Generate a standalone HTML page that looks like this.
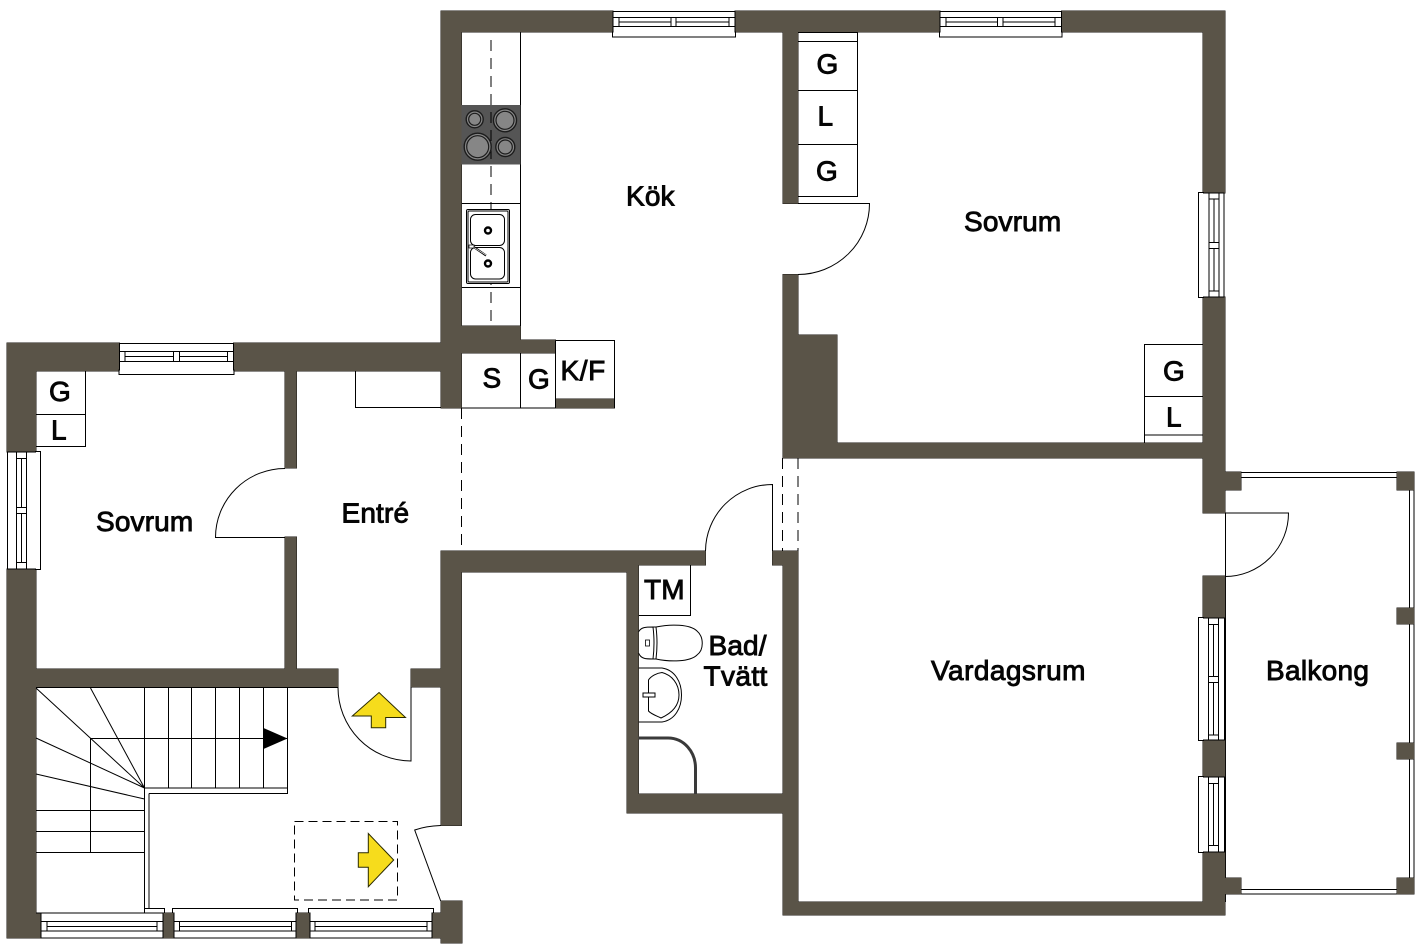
<!DOCTYPE html>
<html><head><meta charset="utf-8"><style>
html,body{margin:0;padding:0;background:#fff;width:1426px;height:950px;overflow:hidden}
svg{display:block}
text{font-family:"Liberation Sans",sans-serif;font-size:28px;fill:#050505;stroke:#050505;stroke-width:.9px;letter-spacing:.15px}
.l{fill:none;stroke:#000;stroke-width:1}
.w{fill:#fff;stroke:#000;stroke-width:1}
.d{fill:none;stroke:#000;stroke-width:1;stroke-dasharray:11 7}
</style></head><body>
<svg width="1426" height="950" viewBox="0 0 1426 950" xmlns="http://www.w3.org/2000/svg">
<defs>
<g id="walls">
<path d="M441 11H613V32H441Z M735 11H940V32H735Z M1061.5 11H1225V32H1061.5Z"/>
<path d="M1203 11H1225V193H1203Z M1203 297H1225V513H1203Z M1203 576H1225V618H1203Z M1203 740H1225V777H1203Z M1203 852H1225V915H1203Z"/>
<path d="M783 902H1225V915H783Z M783 443H1203V458H783Z M783 32H798V203.5H783Z M783 274.5H798V458H783Z M783 335H837V458H783Z"/>
<path d="M783 551H798V915H783Z M772.5 551H798V565H772.5Z M627 551H638.5V813H627Z M627 794H798V813H627Z M441 551H705.5V565H441Z M441 551H627V572H441Z"/>
<path d="M441 11H461.5V408H441Z M461 326H520.5V353H461Z M461 340H555.5V353H461Z M555.5 399H614.5V408H555.5Z"/>
<path d="M7 343H119.5V371H7Z M233.5 343H441V371H233.5Z M7 343H36V452H7Z M7 569H36V938H7Z M7 913H41V938H7Z"/>
<path d="M7 669H338V687H7Z M411 669H461V687H411Z M285 371H296.5V468H285Z M285 537H296.5V669H285Z"/>
<path d="M441 551H461.5V825.5H441Z M441 901H462V943H441Z M432 913H462V938H432Z M163 913H174V938H163Z M296 913H310V938H296Z"/>
<path d="M1225 472H1241V490H1225Z M1397 472H1414V490H1397Z M1397 608H1414V624H1397Z M1397 743H1414V759H1397Z M1225 878H1241V894H1225Z M1397 878H1414V894H1397Z"/>
</g>
</defs>

<!-- balcony rails -->
<path class="l" d="M1241 472.5H1397M1241 477.5H1397M1241 889.5H1397M1241 894H1397M1409.5 490V878M1414 490V878M1225.5 513V618M1225.5 618V902"/>

<!-- walls -->
<use href="#walls" stroke="#1c1a16" stroke-width="1"/>
<use href="#walls" fill="#5a5448"/>

<!-- kitchen counter -->
<path class="l" d="M520.5 32.5V326M461.5 203.5H520.5M461.5 287.5H520.5"/>
<rect x="461.5" y="105" width="59" height="59.5" fill="#555"/>
<path class="d" d="M491 40V326"/>
<g fill="#868686" stroke="#1c1c1c" stroke-width="1.4">
<circle cx="474.7" cy="119.3" r="8.5"/><circle cx="505" cy="120.3" r="11.5"/><circle cx="477.7" cy="146.7" r="13.5"/><circle cx="505.3" cy="147" r="9.5"/>
</g>
<g fill="none" stroke="#1c1c1c" stroke-width="1.2">
<circle cx="474.7" cy="119.3" r="6"/><circle cx="505" cy="120.3" r="9"/><circle cx="477.7" cy="146.7" r="11"/><circle cx="505.3" cy="147" r="7"/>
</g>
<!-- sink -->
<rect class="w" x="466.5" y="209.5" width="43" height="74" rx="1.5"/>
<rect class="l" x="468" y="211" width="40" height="71" rx="1"/>
<rect class="w" x="470.5" y="214.5" width="34" height="31" rx="5"/>
<rect class="w" x="470.5" y="247.5" width="34" height="31.5" rx="5"/>
<circle cx="488" cy="230.5" r="3" fill="#fff" stroke="#000" stroke-width="2.4"/>
<circle cx="488" cy="263.5" r="3" fill="#fff" stroke="#000" stroke-width="2.4"/>
<path d="M473 246.5L486 255.5" stroke="#000" stroke-width="2" fill="none"/>
<path d="M474 247.5L486 255" stroke="#fff" stroke-width=".7" fill="none"/>
<rect x="469" y="245" width="5" height="3" fill="#fff" stroke="#000" stroke-width=".7"/>

<!-- kitchen S G K/F -->
<path class="l" d="M461.5 408H555.5M520.5 353V408"/>
<path class="l" d="M555.5 340.5H614.5V408M555.5 340.5V408"/>

<!-- top windows -->
<rect class="w" x="613" y="11.5" width="122" height="21"/>
<rect class="w" x="612.5" y="32" width="123" height="5"/>
<path fill="none" stroke="#fff" stroke-width="2" d="M613.5 32H734.5"/>
<path class="l" d="M613 17.5H735M613 26.5H735M619 22H671M676 22H729M619 17.5V26.5M671 17.5V26.5M676 17.5V26.5M729 17.5V26.5"/>
<rect class="w" x="940" y="11.5" width="121.5" height="21"/>
<rect class="w" x="939.5" y="32" width="122.5" height="5"/>
<path fill="none" stroke="#fff" stroke-width="2" d="M940.5 32H1061"/>
<path class="l" d="M940 17.5H1061M940 26.5H1061M946 22H997.5M1003 22H1055M946 17.5V26.5M997.5 17.5V26.5M1003 17.5V26.5M1055 17.5V26.5"/>
<rect class="w" x="119.5" y="343.5" width="114" height="27.5"/>
<rect class="w" x="119" y="370" width="115" height="4.5"/>
<path fill="none" stroke="#fff" stroke-width="2" d="M120 370.5H233"/>
<path class="l" d="M119.5 351.5H233.5M119.5 361.5H233.5M125 356.5H173.5M179.5 356.5H227.5M125 351.5V361.5M173.5 351.5V361.5M179.5 351.5V361.5M227.5 351.5V361.5"/>

<!-- vertical windows -->
<rect class="w" x="7.5" y="452" width="29" height="117"/>
<rect class="w" x="35.5" y="451.5" width="5" height="118"/>
<path fill="none" stroke="#fff" stroke-width="2" d="M36 452.5V568.5"/>
<path class="l" d="M16.5 452V569M26.5 452V569M21.5 458.5V507.5M21.5 513.5V562.5M16.5 458.5H26.5M16.5 507.5H26.5M16.5 513.5H26.5M16.5 562.5H26.5"/>

<rect class="w" x="1203" y="193" width="21" height="104"/>
<rect class="w" x="1198.5" y="192.5" width="5" height="105"/>
<path fill="none" stroke="#fff" stroke-width="2" d="M1203.5 193.5V296.5"/>
<path class="l" d="M1209 193V297M1219 193V297M1214 199V242.5M1214 248.5V291M1209 199H1219M1209 242.5H1219M1209 248.5H1219M1209 291H1219"/>

<rect class="w" x="1203" y="618" width="21.5" height="122"/>
<rect class="w" x="1198.5" y="617.5" width="5" height="123"/>
<path fill="none" stroke="#fff" stroke-width="2" d="M1203.5 618.5V739.5"/>
<path class="l" d="M1208.5 618V740M1218.5 618V740M1213.5 624.5V676.5M1213.5 682.5V735M1208.5 624.5H1218.5M1208.5 676.5H1218.5M1208.5 682.5H1218.5M1208.5 735H1218.5"/>

<rect class="w" x="1203" y="777" width="21.5" height="75"/>
<rect class="w" x="1198.5" y="776.5" width="5" height="76"/>
<path fill="none" stroke="#fff" stroke-width="2" d="M1203.5 777.5V851.5"/>
<path class="l" d="M1208.5 777V852M1218.5 777V852M1213.5 783.5V845.5M1208.5 783.5H1218.5M1208.5 845.5H1218.5"/>

<!-- bottom windows -->
<rect class="w" x="41" y="913" width="122" height="25"/>
<path class="l" d="M41 921.5H163M41 931H163M47 926.5H157M47 921.5V931M157 921.5V931"/>
<path class="l" d="M144.5 908.5H164.5V913"/>
<rect class="w" x="174" y="913" width="122" height="25"/>
<path class="l" d="M172.5 913V908.5H297.5V913M174 921.5H296M174 931H296M179.5 926.5H291.5M179.5 921.5V931M291.5 921.5V931"/>
<path fill="none" stroke="#fff" stroke-width="2" d="M174.5 913H295.5"/>
<rect class="w" x="310" y="913" width="122" height="25"/>
<path class="l" d="M308.5 913V908.5H433.5V913M310 921.5H432M310 931H432M315 926.5H427M315 921.5V931M427 921.5V931"/>
<path fill="none" stroke="#fff" stroke-width="2" d="M310.5 913H431.5"/>

<!-- right bedroom wardrobes -->
<path class="l" d="M798 32.5H857.5V196.5H798M798 41.5H857.5M798 90.5H857.5M798 144.5H857.5"/>
<path class="l" d="M1203 344.5H1144.5V443M1144.5 396.5H1203M1144.5 435H1203"/>
<path class="l" d="M798 203.5H869.5A71.5 71 0 0 1 798 274.5"/>

<!-- left bedroom -->
<path class="l" d="M36 446.5H85.5V371M36 414.5H85.5"/>
<path class="l" d="M285 468.5A69.5 69 0 0 0 215.5 537.5H285"/>
<path class="l" d="M355.5 371V407.5H441"/>
<path class="d" d="M461.5 408V551"/>

<!-- bath -->
<path class="l" d="M638.5 615.5H690.5V565"/>
<path class="l" d="M705.5 551A67 67 0 0 1 772.5 484.5V551"/>
<path class="d" d="M782.5 458V551M798 458V551"/>
<path fill="none" stroke="#000" stroke-width="1" d="M656 627C670 624 690 624 697 631C704 637 704 650 697 655C690 662 670 662 656 659"/>
<path fill="none" stroke="#000" stroke-width="1" d="M638.5 632C641 627 646 627 653 627Q655 643 653 659C646 659 641 659 638.5 653M656 627Q658 643 656 659M653 627H656M653 659H656"/>
<rect x="645.5" y="640" width="4" height="6" fill="#fff" stroke="#000" stroke-width=".8"/>
<path class="l" d="M638.5 668H662C675 670 681.5 682 681.5 695C681.5 708 675 720 662 722H638.5"/>
<path class="l" d="M662 672.5C672 675 679 684 679 695C679 706 672 713 661 718C657 716 651 714 648.5 711V680C651 676 657 673 662 672.5Z"/>
<rect x="643" y="693" width="12" height="4" fill="#fff" stroke="#000" stroke-width="1"/>
<path fill="none" stroke="#3a3a3a" stroke-width="3" d="M638.5 738H668C684 738 695.5 752 695.5 768V794"/>

<!-- stairs -->
<path class="l" d="M36 687.5H338M144.5 788V913M36 913H144.5M149 793.5V908M144.5 788H287.5V687.5M149 793.5H287.5V788"/>
<path class="l" d="M144.5 687.5V788M168.5 687.5V788M191.5 687.5V788M215.5 687.5V788M239.5 687.5V788M263.5 687.5V788M90.5 738.5H287.5M90.5 738.5V852.5"/>
<path class="l" d="M36 688L144.5 788M90.5 688L144.5 788M36 738L144.5 788M36 774L144.5 799M36 810.5H144.5M36 831.5H144.5M36 852.5H144.5"/>
<path d="M263.5 728L287.5 738.5L263.5 749Z" fill="#000"/>

<!-- entry doors and arrows -->
<path class="l" d="M338 687.5A73 73.5 0 0 0 411 761V687"/>
<path d="M379 692.5L405.5 717.5H385.7V727.7H371.3V716H352.3Z" fill="#f6dc1c" stroke="#2a2a00" stroke-width="1"/>
<path d="M368.3 833.5L393.7 860L368.3 886.7V867.3H358.3V852.7H368.3Z" fill="#f6dc1c" stroke="#2a2a00" stroke-width="1"/>
<rect x="294.5" y="821.5" width="103" height="78.5" fill="none" stroke="#000" stroke-width="1" stroke-dasharray="9 5"/>
<path class="l" d="M440.7 901L414.7 830Q426 826 440.7 825.5"/>

<!-- balcony door -->
<path class="l" d="M1225 513H1288.5A63.5 63.5 0 0 1 1225 576.5"/>

<!-- labels -->
<text x="626" y="205.5">Kök</text>
<text x="964" y="231">Sovrum</text>
<text x="816.5" y="73.5">G</text>
<text x="817.5" y="125.5">L</text>
<text x="816" y="180.5">G</text>
<text x="1163" y="380.5">G</text>
<text x="1166" y="426.5">L</text>
<text x="482.5" y="387.5">S</text>
<text x="528" y="388.5">G</text>
<text x="560.5" y="380" style="letter-spacing:.6px">K/F</text>
<text x="49" y="401">G</text>
<text x="51" y="439.5">L</text>
<text x="96" y="531">Sovrum</text>
<text x="341.5" y="522.5">Entré</text>
<text x="644" y="599">TM</text>
<text x="708.5" y="655">Bad/</text>
<text x="703.5" y="685.5" style="letter-spacing:.4px">Tvätt</text>
<text x="931" y="680" style="letter-spacing:.45px">Vardagsrum</text>
<text x="1266" y="680" style="letter-spacing:.3px">Balkong</text>
</svg>
</body></html>
